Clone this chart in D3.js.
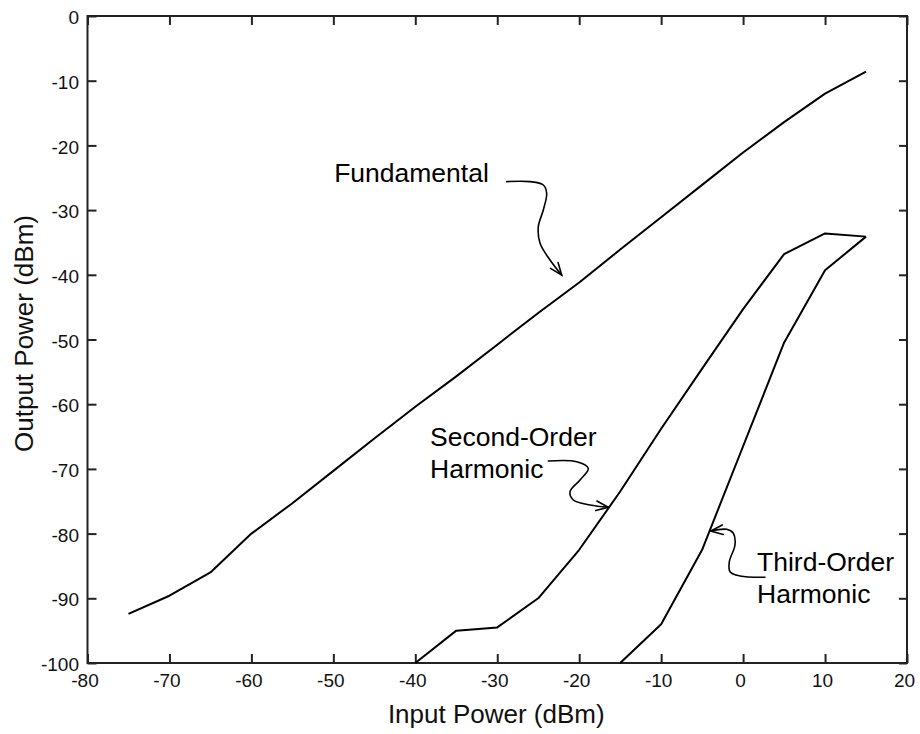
<!DOCTYPE html>
<html>
<head>
<meta charset="utf-8">
<script src="https://cdn.jsdelivr.net/npm/d3@7"></script>
<style>
  html, body { margin: 0; padding: 0; background: #fff; }
  svg { display: block; font-family: "Liberation Sans", Arial, Helvetica, sans-serif; }
</style>
</head>
<body>
<svg id="chart" width="920" height="734"></svg>
<script>
// Input power sweep (dBm)
const inputFund   = [-75, -70, -65, -60, -55, -50, -45, -40, -35, -30, -25, -20, -15, -10, -5, 0, 5, 10, 15];
const outputFund  = [-92.4, -89.6, -86, -80, -75.3, -70.3, -65.3, -60.4, -55.7, -50.8, -45.9, -41.2, -36.1, -31.1, -26.1, -21.1, -16.4, -12, -8.6];

const inputSecond  = [-40, -35, -30, -25, -20, -15, -10, -5, 0, 5, 10, 15];
const outputSecond = [-100, -95, -94.5, -90, -82.5, -73.5, -63.8, -54.5, -45.3, -36.8, -33.6, -34.1];

const inputThird  = [-15, -10, -5, 0, 5, 10, 15];
const outputThird = [-100, -94, -82.5, -66.5, -50.5, -39.3, -34.1];

// Axis ticks
const xTicks = [-80, -70, -60, -50, -40, -30, -20, -10, 0, 10, 20];
const yTicks = [0, -10, -20, -30, -40, -50, -60, -70, -80, -90, -100];

// Annotation labels and their leader curves (data units)
const fundLabel = ["Fundamental"];
const fundLabelAt = [-49.9, -25.66];
const fundArrowX = [-28.85, -26.0, -24.38, -23.97, -24.38, -24.99, -24.78, -23.56, -22.14];
const fundArrowY = [-25.6, -25.6, -26.12, -27.4, -29.98, -32.57, -35.13, -37.71, -40.03];

const secondLabel = ["Second-Order", "Harmonic"];
const secondLabelAt = [-38.2, -66.46];
const secondArrowX = [-23.77, -20.3, -18.89, -19.9, -21.12, -20.72, -18.68, -16.45];
const secondArrowY = [-68.78, -68.89, -69.91, -71.72, -73.52, -74.81, -75.58, -75.94];

const thirdLabel = ["Third-Order", "Harmonic"];
const thirdLabelAt = [1.7, -85.78];
const thirdArrowX = [2.67, -0.38, -1.6, -1.68, -0.99, -1.19, -2.0, -3.95];
const thirdArrowY = [-86.75, -86.55, -85.89, -84.34, -81.76, -79.95, -79.34, -79.6];

const svg = d3.select("#chart");
const plotL = 87.5, plotR = 907, plotT = 16, plotB = 663;

const x = d3.scaleLinear().domain([-80, 20]).range([plotL, plotR]);
const y = d3.scaleLinear().domain([-100, 0]).range([plotB, plotT]);

const fmt = d => String(d);
const axisColor = "#222";

// Ticks point inward on all four sides
const gBottom = svg.append("g").attr("transform", `translate(0,${plotB})`)
  .call(d3.axisBottom(x).tickValues(xTicks).tickFormat(fmt).tickSizeInner(-9).tickSizeOuter(0).tickPadding(11));
const gTop = svg.append("g").attr("transform", `translate(0,${plotT})`)
  .call(d3.axisTop(x).tickValues(xTicks).tickFormat("").tickSizeInner(-9).tickSizeOuter(0));
const gLeft = svg.append("g").attr("transform", `translate(${plotL},0)`)
  .call(d3.axisLeft(y).tickValues(yTicks).tickFormat(fmt).tickSizeInner(-9).tickSizeOuter(0).tickPadding(8.5));
const gRight = svg.append("g").attr("transform", `translate(${plotR},0)`)
  .call(d3.axisRight(y).tickValues(yTicks).tickFormat("").tickSizeInner(-8).tickSizeOuter(0));

[gBottom, gTop, gLeft, gRight].forEach(g => {
  g.select(".domain").remove();
  g.selectAll(".tick line").attr("stroke", axisColor).attr("stroke-width", 2);
  g.selectAll(".tick text").attr("fill", "#111").attr("font-size", 19)
    .attr("font-family", "Liberation Sans, Arial, sans-serif");
});
gBottom.selectAll(".tick text").attr("dx", "-3");
gLeft.selectAll(".tick text").attr("dy", "0.4em");

// Frame
svg.append("rect")
  .attr("x", plotL).attr("y", plotT)
  .attr("width", plotR - plotL).attr("height", plotB - plotT)
  .attr("fill", "none").attr("stroke", axisColor).attr("stroke-width", 2);

// Curves
const line = d3.line().x(d => x(d[0])).y(d => y(d[1]));
const series = [
  [inputFund, outputFund],
  [inputSecond, outputSecond],
  [inputThird, outputThird]
];
series.forEach(([xs, ys]) => {
  svg.append("path")
    .datum(xs.map((v, i) => [v, ys[i]]))
    .attr("d", line)
    .attr("fill", "none")
    .attr("stroke", "#000")
    .attr("stroke-width", 2)
    .attr("stroke-linejoin", "round");
});

// Annotation: label text, curved leader, open arrowhead
const leader = d3.line().x(d => x(d[0])).y(d => y(d[1])).curve(d3.curveCatmullRom.alpha(0.5));

function annotate(lines, at, ax, ay) {
  const t = svg.append("text")
    .attr("x", x(at[0])).attr("y", y(at[1]))
    .attr("font-size", 26.5).attr("fill", "#000");
  lines.forEach((s, i) => {
    t.append("tspan").attr("x", x(at[0])).attr("dy", i === 0 ? 0 : "1.2em").text(s);
  });
  const pts = ax.map((v, i) => [v, ay[i]]);
  svg.append("path").datum(pts).attr("d", leader)
    .attr("fill", "none").attr("stroke", "#000").attr("stroke-width", 1.6)
    .attr("stroke-linecap", "round");
  // arrowhead from the direction of the final segment
  const n = pts.length;
  const tx = x(pts[n - 1][0]), ty = y(pts[n - 1][1]);
  const px = x(pts[n - 2][0]), py = y(pts[n - 2][1]);
  const ang = Math.atan2(ty - py, tx - px);
  const len = 13, spread = 0.38;
  const b1 = [tx - len * Math.cos(ang - spread), ty - len * Math.sin(ang - spread)];
  const b2 = [tx - len * Math.cos(ang + spread), ty - len * Math.sin(ang + spread)];
  svg.append("path")
    .attr("d", `M${b1[0]},${b1[1]}L${tx},${ty}L${b2[0]},${b2[1]}`)
    .attr("fill", "none").attr("stroke", "#000").attr("stroke-width", 1.6)
    .attr("stroke-linejoin", "miter").attr("stroke-linecap", "round");
}

annotate(fundLabel, fundLabelAt, fundArrowX, fundArrowY);
annotate(secondLabel, secondLabelAt, secondArrowX, secondArrowY);
annotate(thirdLabel, thirdLabelAt, thirdArrowX, thirdArrowY);

// Axis titles
svg.append("text")
  .attr("x", (plotL + plotR) / 2 - 1).attr("y", 723)
  .attr("text-anchor", "middle").attr("font-size", 26).attr("fill", "#111")
  .text("Input Power (dBm)");
svg.append("text")
  .attr("transform", `translate(33,${(plotT + plotB) / 2 - 6}) rotate(-90)`)
  .attr("text-anchor", "middle").attr("font-size", 26).attr("fill", "#111")
  .text("Output Power (dBm)");
</script>
</body>
</html>
